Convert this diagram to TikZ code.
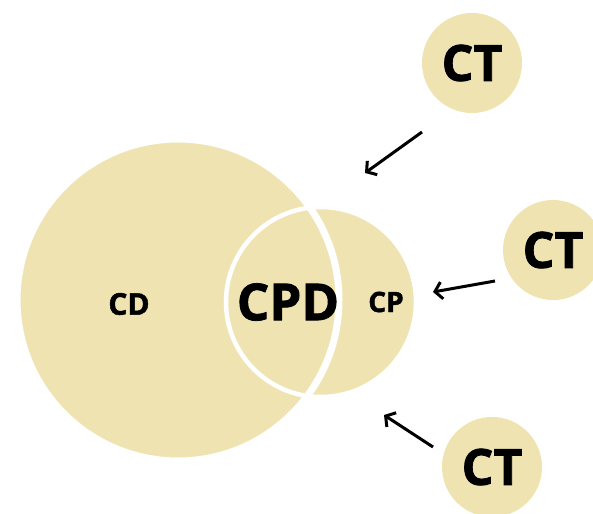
\documentclass[tikz,border=0pt]{standalone}
\usepackage{fontspec}
\setmainfont{Open Sans}[BoldFeatures={FakeBold=1.6}]
\usetikzlibrary{arrows.meta}
\definecolor{khaki}{RGB}{239,228,177}
\tikzset{
  lbl/.style={font=\bfseries, text=black, inner sep=0pt},
  ctnode/.style={circle, fill=khaki, minimum size=100pt, inner sep=0pt, font=\fontsize{50}{56}\selectfont\bfseries},
  arr/.style={-{Straight Barb[length=7pt,width=17pt,line width=3pt]}, line width=3pt, black},
}
\begin{document}
\begin{tikzpicture}[x=1pt,y=-1pt]
\useasboundingbox (0,0) rectangle (593,513);
% Venn circles
\fill[khaki] (178,300) circle[radius=161pt];
\fill[khaki] (321,302) circle[radius=95pt];
\draw[white, line width=7pt] (178,300) circle[radius=161pt];
\draw[white, line width=4.5pt] (321,302) circle[radius=95pt];
% labels
\node[lbl, font=\fontsize{30}{34}\selectfont\bfseries] (cd) at (129,304) {CD};
\node[lbl, font=\fontsize{51}{58}\selectfont\bfseries] (cpd) at (288,302) {CPD};
\node[lbl, font=\fontsize{28}{32}\selectfont\bfseries] (cp) at (386,302) {CP};
% CT circles
\node[ctnode] (ct1) at (472,63) {CT};
\node[ctnode] (ct2) at (553,250) {CT};
\node[ctnode] (ct3) at (492,467) {CT};
% arrow ends
\coordinate (t1) at (422,132);
\coordinate (h1) at (365,173);
\coordinate (t2) at (495,281);
\coordinate (h2) at (433,292);
\coordinate (t3) at (433,447);
\coordinate (h3) at (384,415);
\draw[arr] (t1) -- (h1);
\draw[arr] (t2) -- (h2);
\draw[arr] (t3) -- (h3);
\end{tikzpicture}
\end{document}
